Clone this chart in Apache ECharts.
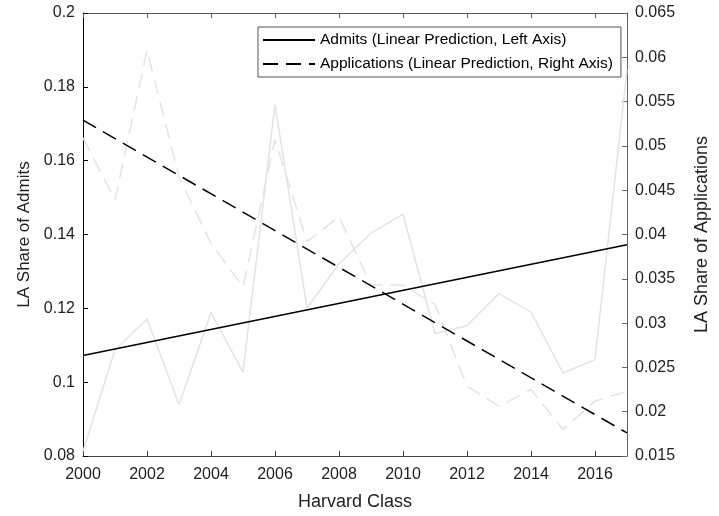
<!DOCTYPE html>
<html>
<head>
<meta charset="utf-8">
<script src="https://cdn.jsdelivr.net/npm/echarts@6/dist/echarts.min.js"></script>
<style>
html,body{margin:0;padding:0;background:#fff;}
#chart{width:719px;height:516px;}
</style>
</head>
<body>
<div id="chart"></div>
<script>
var years = [2000, 2001, 2002, 2003, 2004, 2005, 2006, 2007, 2008, 2009, 2010, 2011, 2012, 2013, 2014, 2015, 2016, 2017];
// LA share of admits (left axis)
var admits = [0.0813, 0.1088, 0.1171, 0.0939, 0.1189, 0.1027, 0.1751, 0.1201, 0.1320, 0.1404, 0.1455, 0.1132, 0.1153, 0.1240, 0.1190, 0.1025, 0.1061, 0.1846];
// LA share of applications (right axis)
var applications = [0.0509, 0.0439, 0.0608, 0.0465, 0.0390, 0.0341, 0.0507, 0.0392, 0.0420, 0.0343, 0.0343, 0.0321, 0.0229, 0.0206, 0.0225, 0.0180, 0.0212, 0.0223];
// linear predictions, read at the ends
var fitYears = [2000, 2017];
var admitsFit = [0.1072, 0.1372];
var applicationsFit = [0.0529, 0.0176];

function pairs(xs, ys) {
    var out = [];
    for (var i = 0; i < xs.length; i++) out.push([xs[i], ys[i]]);
    return out;
}

var font = 'Liberation Sans';
var dom = document.getElementById('chart');
var myChart = echarts.init(dom);
var option = {
    animation: false,
    textStyle: {fontFamily: font},
    grid: {left: 83, right: 88, top: 13, bottom: 60},
    legend: {
        data: ['Admits (Linear Prediction, Left Axis)', 'Applications (Linear Prediction, Right Axis)'],
        orient: 'vertical',
        left: 258,
        top: 27,
        itemWidth: 52,
        itemHeight: 14,
        itemGap: 8,
        padding: [5, 8, 5, 4],
        borderColor: '#555',
        borderWidth: 1,
        backgroundColor: '#fff',
        itemStyle: {opacity: 0},
        textStyle: {fontFamily: font, fontSize: 15.5, color: '#000', padding: [0, 0, 0, 0]}
    },
    xAxis: [{
        type: 'value',
        min: 2000,
        max: 2017,
        interval: 2,
        name: 'Harvard Class',
        nameLocation: 'middle',
        nameGap: 37,
        nameTextStyle: {fontFamily: font, fontSize: 18, color: '#222'},
        axisLine: {lineStyle: {color: '#444', width: 1}},
        axisTick: {inside: true, length: 5, lineStyle: {color: '#444'}},
        axisLabel: {
            fontFamily: font, fontSize: 16, color: '#222', margin: 11, showMaxLabel: false,
            formatter: function (v) { return String(v); }
        },
        splitLine: {show: false}
    }, {
        type: 'value',
        position: 'top',
        min: 2000,
        max: 2017,
        interval: 2,
        axisLine: {lineStyle: {color: '#555', width: 1}},
        axisTick: {inside: true, length: 5, lineStyle: {color: '#555'}},
        axisLabel: {show: false},
        splitLine: {show: false}
    }],
    yAxis: [{
        type: 'value',
        min: 0.08,
        max: 0.2,
        interval: 0.02,
        name: 'LA Share of Admits',
        nameLocation: 'middle',
        nameGap: 41,
        nameTextStyle: {fontFamily: font, fontSize: 17, color: '#222'},
        axisLine: {show: true, lineStyle: {color: '#000', width: 1}},
        axisTick: {show: true, inside: true, length: 5, lineStyle: {color: '#000'}},
        axisLabel: {fontFamily: font, fontSize: 16, color: '#222', margin: 8},
        splitLine: {show: false}
    }, {
        type: 'value',
        position: 'right',
        min: 0.015,
        max: 0.065,
        interval: 0.005,
        name: 'LA Share of Applications',
        nameLocation: 'middle',
        nameGap: 66,
        nameRotate: 90,
        nameTextStyle: {fontFamily: font, fontSize: 18, color: '#222'},
        axisLine: {show: true, lineStyle: {color: '#666', width: 1}},
        axisTick: {show: true, inside: true, length: 5, lineStyle: {color: '#666'}},
        axisLabel: {fontFamily: font, fontSize: 16, color: '#222', margin: 8},
        splitLine: {show: false}
    }],
    series: [{
        name: 'Admits',
        type: 'line',
        xAxisIndex: 0,
        yAxisIndex: 0,
        symbol: 'none',
        data: pairs(years, admits),
        lineStyle: {color: '#e3e3e3', width: 1.5},
        itemStyle: {color: '#e3e3e3'},
        z: 1
    }, {
        name: 'Applications',
        type: 'line',
        xAxisIndex: 0,
        yAxisIndex: 1,
        symbol: 'none',
        data: pairs(years, applications),
        lineStyle: {color: '#e3e3e3', width: 1.5, type: [15, 8]},
        itemStyle: {color: '#e3e3e3'},
        z: 1
    }, {
        name: 'Admits (Linear Prediction, Left Axis)',
        type: 'line',
        xAxisIndex: 0,
        yAxisIndex: 0,
        symbol: 'none',
        data: pairs(fitYears, admitsFit),
        lineStyle: {color: '#000', width: 1.5},
        itemStyle: {color: '#000'},
        z: 3
    }, {
        name: 'Applications (Linear Prediction, Right Axis)',
        type: 'line',
        xAxisIndex: 0,
        yAxisIndex: 1,
        symbol: 'none',
        data: pairs(fitYears, applicationsFit),
        lineStyle: {color: '#000', width: 1.5, type: [15, 8]},
        itemStyle: {color: '#000'},
        z: 3
    }]
};
myChart.setOption(option);
</script>
</body>
</html>
